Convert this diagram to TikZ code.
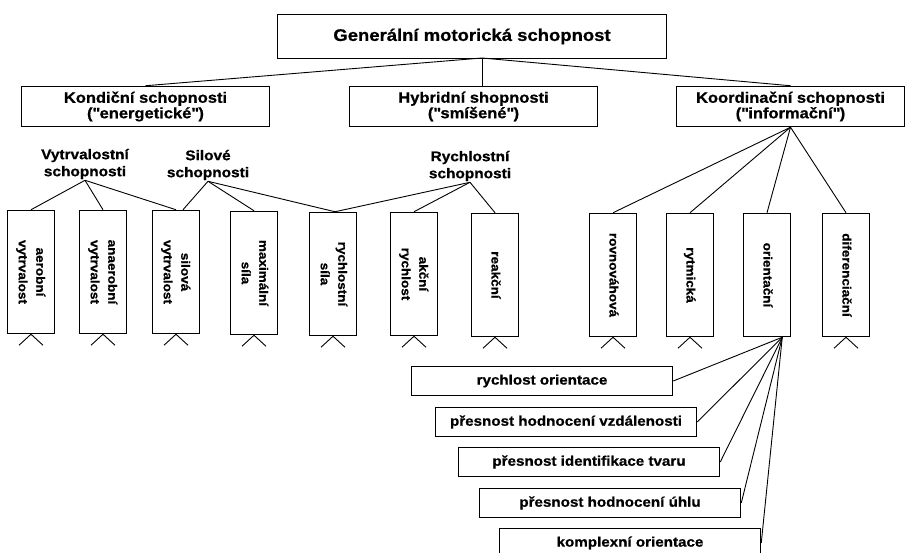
\documentclass[tikz,border=0pt]{standalone}
\usepackage{graphicx}
\usepackage{fontspec}
\setmainfont{Liberation Sans}[FakeStretch=1.1, BoldFeatures={FakeBold=0.8}]
\usetikzlibrary{positioning, calc}

\newcommand{\vlab}[1]{\rotatebox{-90}{\begin{tabular}{@{}c@{}}#1\end{tabular}}}
\newcommand{\qq}[1]{(\textquotedbl#1\textquotedbl)}

\tikzset{
  box/.style={draw, line width=1.5pt, inner sep=0pt, align=center},
  head/.style={box, minimum width=389pt, minimum height=44pt, font=\fontsize{16.8}{18}\selectfont\bfseries},
  group/.style={box, minimum height=40pt, font=\fontsize{15}{15.5}\selectfont\bfseries},
  kind/.style={inner sep=1pt, align=center, font=\fontsize{14}{17}\selectfont\bfseries},
  skill/.style={box, minimum width=47pt, minimum height=123pt, font=\fontsize{12.3}{17.5}\selectfont\bfseries},
  orient/.style={box, minimum width=261pt, minimum height=29pt, font=\fontsize{13.8}{15}\selectfont\bfseries},
  link/.style={line width=0.9pt}
}

\begin{document}
\begin{tikzpicture}[x=1pt, y=-1pt]
  \useasboundingbox (0,0) rectangle (913,553);
  \fill[white] (0,0) rectangle (913,553);
  \clip (0,0) rectangle (913,553);

  \node[head] (top) at (472,36.5) {Generální motorická schopnost};

  \node[group, minimum width=248pt] (kond) at (145.5,106.5) {Kondiční schopnosti\\\qq{energetické}};
  \node[group, minimum width=248pt] (hyb) at (473.5,106.5) {Hybridní shopnosti\\\qq{smíšené}};
  \node[group, minimum width=228pt] (koord) at (790.5,106.5) {Koordinační schopnosti\\\qq{informační}};

  \coordinate (tj) at (482,58);
  \draw[link] (tj) -- (kond.north);
  \draw[link] (tj) -- (tj |- hyb.north);
  \draw[link] (tj) -- (koord.north);

  \node[kind] (vytr) at (85,164) {Vytrvalostní\\schopnosti};
  \node[kind] (silo) at (208,165) {Silové\\schopnosti};
  \node[kind] (rych) at (470,166) {Rychlostní\\schopnosti};

  \node[skill] (aer) at (31,272) {\vlab{aerobní\\vytrvalost}};
  \node[skill] (anaer) at (103,272) {\vlab{anaerobní\\vytrvalost}};
  \node[skill] (silv) at (176,272) {\vlab{silová\\vytrvalost}};
  \node[skill] (maxs) at (254,273) {\vlab{maximální\\síla}};
  \node[skill] (rsil) at (333,274) {\vlab{rychlostní\\síla}};
  \node[skill] (akr) at (414,274) {\vlab{akční\\rychlost}};
  \node[skill] (rea) at (495,275) {\vlab{reakční}};
  \node[skill] (rov) at (613,275) {\vlab{rovnováhová}};
  \node[skill] (ryt) at (690,275) {\vlab{rytmická}};
  \node[skill] (ori) at (767,275) {\vlab{orientační}};
  \node[skill] (dif) at (846,275) {\vlab{diferenciační}};

  \draw[link] (vytr.south) -- (aer.north);
  \draw[link] (vytr.south) -- (anaer.north);
  \draw[link] (vytr.south) -- (silv.north);
  \draw[link] (silo.south) -- ([xshift=7pt]silv.north);
  \draw[link] (silo.south) -- (maxs.north);
  \draw[link] (silo.south) -- ([xshift=2pt]rsil.north);
  \draw[link] (rych.south) -- ([xshift=2pt]rsil.north);
  \draw[link] (rych.south) -- (akr.north);
  \draw[link] (rych.south) -- (rea.north);

  \foreach \k in {rov,ryt,ori,dif}
    \draw[link] (koord.south) -- (\k.north);

  \foreach \b in {aer,anaer,silv,maxs,rsil,akr,rea,rov,ryt,dif}
    \draw[link] ([xshift=-12pt,yshift=-11pt]\b.south) -- (\b.south) -- ([xshift=12pt,yshift=-11pt]\b.south);

  \node[orient] (so) at (542,381) {rychlost orientace};
  \node[orient] (vz) at (566,422) {přesnost hodnocení vzdálenosti};
  \node[orient] (tv) at (589,462) {přesnost identifikace tvaru};
  \node[orient] (uh) at (610,503) {přesnost hodnocení úhlu};
  \node[orient] (ko) at (630,543) {komplexní orientace};

  \coordinate (oh) at ([xshift=-9pt]ori.south east);
  \foreach \s in {so,vz,tv,uh,ko}
    \draw[link] (oh) -- (\s.east);
\end{tikzpicture}
\end{document}
